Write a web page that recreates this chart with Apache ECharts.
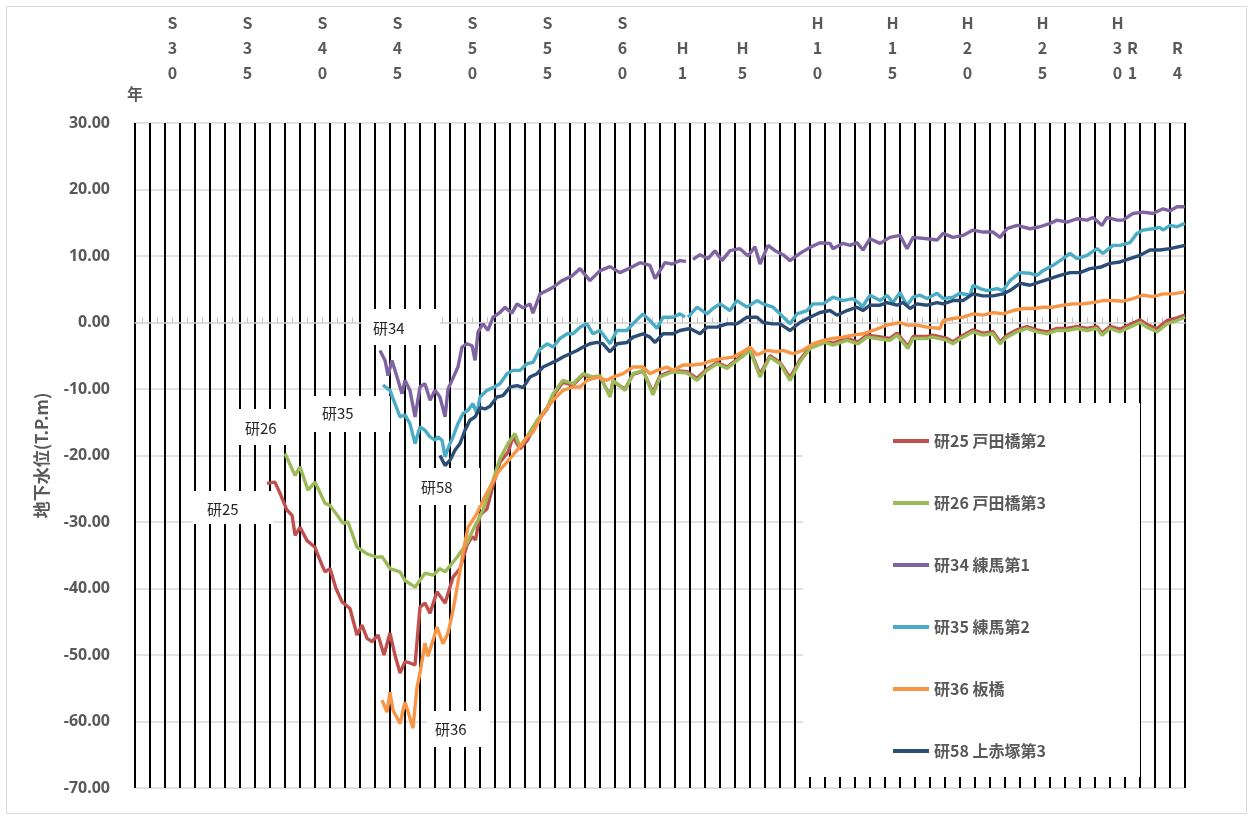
<!DOCTYPE html>
<html><head><meta charset="utf-8">
<script src="https://cdn.jsdelivr.net/npm/echarts@6/dist/echarts.min.js"></script>
<style>html,body{margin:0;padding:0;background:#fff}#c{width:1253px;height:820px}</style>
</head><body><div id="c"></div>
<script>
// ---- data ----
const FIRST_YEAR = 1953, LAST_YEAR = 2023;
const yearCategories = [];
for (let y = FIRST_YEAR; y < LAST_YEAR; y++) yearCategories.push(String(y));
const eraTickLabels = {1955:'S30',1960:'S35',1965:'S40',1970:'S45',1975:'S50',1980:'S55',1985:'S60',
  1989:'H1',1993:'H5',1998:'H10',2003:'H15',2008:'H20',2013:'H25',2018:'H30',2019:'R1',2022:'R4'};
const yTicks = {min:-70, max:30, step:10};

const seriesNames = ['研25 戸田橋第2','研26 戸田橋第3','研34 練馬第1','研35 練馬第2','研36 板橋','研58 上赤塚第3'];
const seriesColors = ['#C0504D','#9BBB59','#8064A2','#4BACC6','#F79646','#2C4D75'];

const ken25 = [[1961.8,-24.2],[1962.33,-24.0],[1962.67,-25.7],[1963.13,-28.2],[1963.47,-29.0],[1963.67,-32.0],[1964.0,-30.8],
 [1964.47,-32.8],[1965.0,-33.8],[1965.2,-35],[1965.47,-36.5],[1965.67,-37.5],[1966.0,-37.0],[1966.4,-40.0],[1966.8,-42.0],
 [1967.33,-43.0],[1967.8,-47.0],[1968.13,-45.5],[1968.47,-47.5],[1968.8,-48.0],[1969.2,-47.0],[1969.6,-50.0],[1970.0,-46.7],
 [1970.33,-50],[1970.67,-52.7],[1971.0,-51.0],[1971.33,-51.2],[1971.67,-51.5],[1972.0,-42.8],[1972.33,-42.2],[1972.67,-43.7],
 [1973.13,-40.5],[1973.67,-42.2],[1974.2,-38.3],[1974.67,-37.0],[1975.13,-33.5],[1975.47,-32.2],[1975.7,-32.7],[1976.0,-29.0],
 [1976.47,-28.0],[1976.87,-24.5],[1977.33,-21.0],[1977.87,-19.5],[1978.2,-17.2],[1978.67,-19.0],[1979.13,-17.8],[1979.8,-15.0],
 [1980.47,-13.0],[1980.87,-11.0],[1981.53,-9.0],[1982.2,-9.4],[1982.87,-7.9],[1983.53,-8.3],[1984.0,-8.2],[1984.67,-11.0],
 [1984.87,-8.9],[1985.67,-10.0],[1986.2,-7.8],[1986.87,-7.3],[1987.53,-10.5],[1988.0,-8.0],[1988.87,-7.2],[1989.8,-7.4],
 [1990.47,-8.4],[1991.13,-7.0],[1991.8,-6.0],[1992.47,-6.7],[1993.33,-5.2],[1994.0,-4.0],[1994.67,-7.8],[1995.33,-5.0],
 [1996.0,-6.0],[1996.67,-8.3],[1997.33,-5.6],[1998.0,-3.7],[1999.0,-2.8],[1999.53,-3.1],[2000.47,-2.4],[2001.2,-2.9],
 [2001.8,-1.9],[2002.47,-2.1],[2003.33,-2.4],[2003.8,-1.6],[2004.53,-3.6],[2004.87,-2.1],[2005.8,-2.1],[2006.2,-1.9],
 [2007.13,-2.4],[2007.53,-2.9],[2008.2,-1.9],[2008.87,-1.1],[2009.53,-1.6],[2010.2,-1.4],[2010.67,-2.9],[2011.13,-1.9],
 [2011.8,-1.1],[2012.47,-0.6],[2013.13,-1.1],[2013.8,-1.4],[2014.47,-0.9],[2015.13,-0.9],[2015.8,-0.6],[2016.47,-0.9],
 [2017.13,-0.6],[2017.47,-1.6],[2018.0,-0.6],[2018.67,-1.0],[2019.33,-0.3],[2020.0,0.4],[2020.47,-0.3],[2021.13,-0.9],
 [2021.8,0.3],[2022.47,0.7],[2023.0,1.1]];

const ken26 = [[1963.0,-19.7],[1963.67,-23.0],[1964.0,-21.7],[1964.53,-25.2],[1965.0,-24.0],[1965.67,-27.2],[1966.0,-27.5],
 [1966.87,-30.2],[1967.2,-30.0],[1967.8,-33.8],[1968.47,-34.8],[1969.13,-35.3],[1969.47,-35.2],[1970.0,-37.0],[1970.67,-37.5],
 [1971.0,-38.8],[1971.67,-39.8],[1972.33,-37.7],[1972.87,-38.0],[1973.33,-37.0],[1973.67,-37.5],[1974.47,-35.3],[1975.13,-33.2],
 [1975.53,-31.2],[1976.2,-28.2],[1976.87,-23.7],[1977.33,-20.5],[1977.87,-18.2],[1978.33,-16.7],[1978.67,-18.7],[1979.13,-17.2],
 [1979.8,-14.7],[1980.47,-12.8],[1980.87,-10.7],[1981.53,-8.7],[1982.2,-9.2],[1982.87,-7.7],[1983.53,-8.2],[1984.0,-8.0],
 [1984.67,-11.2],[1984.87,-8.7],[1985.67,-10.2],[1986.2,-7.7],[1986.87,-7.2],[1987.53,-10.9],[1988.0,-8.2],[1988.87,-7.4],
 [1989.8,-7.6],[1990.47,-8.7],[1991.13,-7.2],[1991.8,-6.2],[1992.47,-6.9],[1993.33,-5.4],[1994.0,-4.2],[1994.67,-8.2],
 [1995.33,-5.2],[1996.0,-6.2],[1996.67,-8.7],[1997.33,-5.9],[1998.0,-3.9],[1999.0,-3.0],[1999.53,-3.4],[2000.47,-2.7],
 [2001.2,-3.2],[2001.8,-2.2],[2002.47,-2.4],[2003.33,-2.7],[2003.8,-1.9],[2004.53,-3.9],[2004.87,-2.4],[2005.8,-2.4],
 [2006.2,-2.2],[2007.13,-2.7],[2007.53,-3.2],[2008.2,-2.2],[2008.87,-1.4],[2009.53,-1.9],[2010.2,-1.7],[2010.67,-3.2],
 [2011.13,-2.2],[2011.8,-1.4],[2012.47,-0.9],[2013.13,-1.4],[2013.8,-1.7],[2014.47,-1.2],[2015.13,-1.2],[2015.8,-0.9],
 [2016.47,-1.2],[2017.13,-0.9],[2017.47,-1.9],[2018.0,-0.9],[2018.67,-1.4],[2019.33,-0.7],[2020.0,0.0],[2020.47,-0.7],
 [2021.13,-1.4],[2021.8,-0.2],[2022.47,0.3],[2023.0,0.8]];

const ken34 = [[1969.33,-4.2],[1969.67,-5.7],[1969.87,-8.0],[1970.13,-5.7],[1970.47,-8.2],[1970.8,-10.7],[1971.0,-8.7],
 [1971.33,-10.2],[1971.67,-14.2],[1972.0,-9.7],[1972.33,-9.2],[1972.67,-11.7],[1973.0,-10.2],[1973.33,-11.2],[1973.67,-14.2],
 [1973.87,-10.0],[1974.13,-8.7],[1974.53,-6.7],[1974.8,-3.7],[1975.13,-3.2],[1975.47,-3.5],[1975.67,-5.7],[1975.87,-1.4],
 [1976.2,-0.2],[1976.53,-1.2],[1976.87,0.8],[1977.33,1.5],[1977.67,2.3],[1978.13,1.4],[1978.47,2.8],[1978.87,2.2],
 [1979.33,2.8],[1979.53,1.4],[1980.0,4.3],[1980.47,4.8],[1980.87,5.3],[1981.47,6.3],[1982.13,7.0],[1982.67,8.1],
 [1983.33,6.3],[1984.0,7.8],[1984.67,8.4],[1985.33,7.5],[1986.0,8.2],[1986.67,9.0],[1987.33,8.6],[1987.67,6.6],
 [1988.33,9.0],[1988.8,8.8],[1989.33,9.3],[1989.73,9.2],[1989.95,null],[1990.2,9.5],[1990.67,10.2],[1991.2,9.6],
 [1991.67,10.8],[1992.13,9.3],[1992.67,10.8],[1993.33,11.1],[1993.87,10.0],[1994.33,11.4],[1994.67,8.8],[1995.2,11.6],
 [1995.67,10.8],[1996.2,10.2],[1996.67,9.3],[1997.33,10.4],[1998.0,11.3],[1998.67,12.0],[1999.33,11.9],[1999.53,11.1],
 [2000.2,11.9],[2000.67,11.6],[2001.13,12.0],[2001.53,10.9],[2002.0,12.6],[2002.67,11.9],[2003.33,12.8],[2004.0,13.1],
 [2004.47,11.1],[2004.87,12.8],[2005.8,12.6],[2006.47,12.4],[2006.87,13.4],[2007.53,12.8],[2008.2,13.1],[2008.87,13.9],
 [2009.53,13.6],[2010.2,13.6],[2010.67,12.8],[2011.13,14.1],[2011.8,14.6],[2012.67,14.1],[2013.33,14.4],[2014.0,14.9],
 [2014.47,15.4],[2015.13,15.1],[2015.8,15.6],[2016.47,15.4],[2016.87,15.8],[2017.47,14.6],[2017.8,15.8],[2018.47,15.4],
 [2018.87,15.4],[2019.53,16.4],[2020.2,16.6],[2020.87,16.4],[2021.53,17.1],[2022.0,16.8],[2022.47,17.4],[2023.0,17.4]];

const ken35 = [[1969.53,-9.4],[1970.0,-10.2],[1970.33,-12.2],[1970.67,-14.2],[1971.0,-13.9],[1971.33,-15.2],[1971.67,-18.2],
 [1972.0,-15.7],[1972.33,-16.2],[1972.67,-17.2],[1973.0,-17.7],[1973.2,-17.2],[1973.47,-17.7],[1973.67,-20.2],[1973.87,-18.9],
 [1974.2,-17.2],[1974.53,-15.2],[1974.87,-13.7],[1975.2,-13.2],[1975.53,-12.2],[1975.8,-13.7],[1976.0,-11.2],[1976.47,-10.2],
 [1976.87,-9.8],[1977.33,-9.2],[1977.8,-7.7],[1978.2,-7.2],[1978.67,-7.2],[1979.13,-6.2],[1979.53,-6.0],[1980.0,-4.0],
 [1980.47,-3.2],[1980.87,-3.7],[1981.33,-2.4],[1981.8,-1.7],[1982.2,-1.7],[1982.67,-0.7],[1983.13,-0.2],[1983.53,-1.7],
 [1984.0,-1.2],[1984.67,-3.2],[1985.13,-1.2],[1985.8,-1.2],[1986.2,-0.2],[1986.87,1.3],[1987.33,0.3],[1987.8,-0.9],
 [1988.2,0.8],[1988.87,0.8],[1989.33,1.3],[1989.67,0.8],[1989.77,null],[1989.87,0.8],[1990.47,2.3],[1991.13,1.3],
 [1991.53,2.1],[1992.0,2.8],[1992.67,1.8],[1993.13,3.3],[1993.8,2.3],[1994.47,3.3],[1994.87,2.8],[1995.53,2.3],
 [1996.0,1.3],[1996.67,-0.2],[1997.13,1.3],[1997.8,1.8],[1998.2,2.8],[1998.87,2.8],[1999.53,3.8],[2000.2,3.3],
 [2000.87,3.6],[2001.33,2.8],[2001.47,2.3],[2002.0,4.1],[2002.67,3.3],[2003.13,4.1],[2003.53,3.0],[2004.0,4.5],
 [2004.47,2.6],[2004.87,3.8],[2005.33,4.1],[2005.8,3.6],[2006.47,4.4],[2006.87,3.6],[2007.53,3.8],[2008.0,4.4],
 [2008.67,4.1],[2008.87,5.6],[2009.33,5.1],[2009.8,4.8],[2010.47,5.1],[2010.87,4.8],[2011.33,6.3],[2012.0,7.5],
 [2012.67,7.4],[2013.13,7.1],[2013.53,7.8],[2014.2,8.6],[2014.87,9.6],[2015.33,10.4],[2015.8,9.6],[2016.47,10.1],
 [2017.13,11.1],[2017.53,10.4],[2018.2,11.6],[2018.67,11.6],[2019.33,12.0],[2019.8,13.4],[2020.2,13.9],[2020.87,14.1],
 [2021.33,14.3],[2021.53,13.9],[2022.0,14.6],[2022.47,14.4],[2023.0,14.9]];

const ken36 = [[1969.47,-56.8],[1969.8,-58.6],[1970.0,-55.6],[1970.2,-58.3],[1970.67,-60.3],[1971.0,-57.1],[1971.2,-58.5],
 [1971.53,-61.0],[1971.8,-54.9],[1972.0,-52.7],[1972.33,-48.2],[1972.53,-50.2],[1972.87,-47.8],[1973.13,-45.8],[1973.53,-48.3],
 [1973.87,-46.7],[1974.2,-43.3],[1974.53,-39.1],[1974.87,-34.6],[1975.2,-30.8],[1975.8,-28.7],[1976.2,-26.7],[1976.8,-24.2],
 [1977.2,-22.5],[1977.8,-21.0],[1978.47,-19.2],[1979.13,-17.2],[1979.53,-16.5],[1980.2,-13.7],[1980.87,-11.7],[1981.53,-10.2],
 [1982.2,-9.7],[1982.67,-9.7],[1983.13,-8.7],[1983.8,-8.2],[1984.47,-8.7],[1984.87,-8.2],[1985.53,-7.7],[1986.2,-6.7],
 [1986.87,-6.7],[1987.33,-7.7],[1987.8,-7.2],[1988.47,-6.7],[1988.87,-7.2],[1989.53,-6.4],[1990.2,-6.4],[1990.87,-6.2],
 [1991.53,-5.7],[1992.2,-5.4],[1992.87,-5.2],[1993.53,-4.4],[1994.0,-3.7],[1994.47,-4.9],[1995.13,-4.2],[1995.8,-4.4],
 [1996.2,-4.2],[1996.87,-4.7],[1997.53,-4.2],[1998.2,-3.2],[1998.87,-2.7],[1999.53,-2.4],[2000.2,-2.2],[2000.87,-1.9],
 [2001.53,-1.7],[2002.2,-1.2],[2003.13,-0.4],[2004.0,0.0],[2004.47,-0.4],[2005.13,-0.4],[2005.8,-0.7],[2006.67,-0.9],
 [2006.87,0.3],[2007.53,0.6],[2008.2,0.8],[2008.87,1.3],[2009.53,1.1],[2010.2,1.5],[2010.87,1.3],[2011.53,1.8],
 [2012.2,2.1],[2012.87,2.1],[2013.53,2.3],[2014.2,2.3],[2014.87,2.6],[2015.53,2.8],[2016.2,2.8],[2016.87,3.0],
 [2017.53,3.3],[2018.2,3.3],[2018.87,3.2],[2019.53,3.6],[2020.2,4.1],[2020.87,3.9],[2021.53,4.3],[2022.2,4.3],[2023.0,4.6]];

const ken58 = [[1973.33,-20.0],[1973.67,-21.5],[1974.0,-20.7],[1974.33,-19.2],[1974.67,-18.2],[1975.0,-16.2],[1975.33,-14.7],
 [1975.67,-14.2],[1976.0,-12.8],[1976.33,-13.0],[1976.67,-12.6],[1977.13,-11.2],[1977.53,-11.0],[1978.0,-9.7],[1978.47,-9.5],
 [1978.87,-9.8],[1979.33,-8.2],[1979.8,-7.7],[1980.2,-6.7],[1980.67,-6.2],[1981.13,-5.7],[1981.53,-5.2],[1982.0,-4.7],
 [1982.47,-4.2],[1982.87,-3.7],[1983.33,-3.2],[1983.8,-3.0],[1984.2,-3.2],[1984.67,-4.4],[1985.13,-3.2],[1985.8,-3.0],
 [1986.2,-2.2],[1986.87,-1.7],[1987.33,-2.2],[1987.67,-3.0],[1988.2,-1.7],[1988.87,-1.7],[1989.33,-1.2],[1990.0,-0.9],
 [1990.67,-1.7],[1991.13,-0.7],[1991.8,-0.7],[1992.47,-0.2],[1993.13,-0.2],[1993.8,0.8],[1994.47,0.8],[1994.87,0.0],
 [1995.53,-0.2],[1996.0,-0.2],[1996.67,-1.2],[1997.33,0.0],[1998.0,0.8],[1998.67,1.5],[1999.33,1.8],[1999.8,1.1],
 [2000.47,1.8],[2001.13,2.3],[2001.53,1.8],[2002.0,2.6],[2002.67,2.6],[2003.13,3.0],[2003.8,2.6],[2004.2,3.0],
 [2004.67,2.1],[2005.13,2.8],[2005.8,2.6],[2006.47,3.0],[2006.87,2.8],[2007.53,3.3],[2008.2,3.3],[2008.87,4.3],
 [2009.53,4.0],[2010.2,4.0],[2010.87,4.3],[2011.33,4.8],[2012.0,5.9],[2012.67,5.6],[2013.33,6.1],[2014.0,6.6],
 [2014.67,7.1],[2015.33,7.5],[2016.0,7.5],[2016.67,8.1],[2017.33,8.3],[2018.0,8.9],[2018.67,9.1],[2019.33,9.6],
 [2020.0,10.1],[2020.67,10.9],[2021.33,10.9],[2022.0,11.1],[2023.0,11.6]];

const seriesData = [ken25, ken26, ken34, ken35, ken36, ken58];

// annotation labels (text + box in pixels)
const noteLabels = [
  {text:'研34', box:[362,309,78,36], tx:373, ty:328},
  {text:'研35', box:[302,396,88,36], tx:322, ty:413},
  {text:'研26', box:[232,409,60,36], tx:245, ty:428},
  {text:'研25', box:[193,491,80,33], tx:207, ty:509},
  {text:'研58', box:[410,468,70,37], tx:421, ty:487},
  {text:'研36', box:[427,711,63,36], tx:435, ty:729}
];

// ---- chart ----
const FONT = '"Noto Sans CJK JP","Noto Sans",sans-serif';
const GRAY = '#595959';
const chart = echarts.init(document.getElementById('c'));

const graphics = [
  {type:'rect', shape:{x:6.5,y:6.5,width:1240,height:807}, style:{fill:null, stroke:'#d9d9d9', lineWidth:1}, z:0, silent:true},
  {type:'rect', shape:{x:803,y:403,width:337,height:374}, style:{fill:'#fff'}, z:3, silent:true},
  {type:'text', left:127, top:86, style:{text:'年', font:'bold 16px '+FONT, fill:GRAY}, z:5}
];
noteLabels.forEach(n => {
  graphics.push({type:'rect', shape:{x:n.box[0],y:n.box[1],width:n.box[2],height:n.box[3]}, style:{fill:'#fff'}, z:3, silent:true});
  graphics.push({type:'text', x:n.tx, y:n.ty, style:{text:n.text, font:'15px '+FONT, fill:'#262626', verticalAlign:'middle'}, z:4, silent:true});
});

const option = {
  backgroundColor:'#fff',
  animation:false,
  grid:{left:135, right:68, top:123, bottom:32, containLabel:false},
  legend:{
    orient:'vertical', left:888, top:426, itemGap:42, itemWidth:36, itemHeight:4, icon:'rect',
    textStyle:{fontFamily:FONT, fontWeight:'bold', fontSize:16, color:GRAY, lineHeight:20},
    data:seriesNames, z:6
  },
  xAxis:[
    {type:'value', min:FIRST_YEAR, max:LAST_YEAR, show:false, axisLine:{onZero:false}},
    {type:'category', position:'top', data:yearCategories, boundaryGap:true, z:1,
     axisLine:{show:false}, axisTick:{show:false},
     axisLabel:{interval:0, margin:38, fontFamily:FONT, fontWeight:'bold', fontSize:16, color:GRAY, lineHeight:25,
       verticalAlign:'bottom',
       formatter:v => eraTickLabels[v] ? eraTickLabels[v].split('').join('\n') : ''},
     splitLine:{show:true, interval:0, lineStyle:{color:'#000', width:2}}},
    {type:'category', position:'bottom', data:yearCategories, boundaryGap:true, z:1,
     axisLine:{show:true, onZero:true, onZeroAxisIndex:0, lineStyle:{color:'#d9d9d9', width:1.5}},
     axisTick:{show:true, inside:true, alignWithLabel:true, interval:0, length:5, lineStyle:{color:'#bfbfbf', width:1}},
     axisLabel:{show:false}, splitLine:{show:false}}
  ],
  yAxis:{
    type:'value', min:yTicks.min, max:yTicks.max, interval:yTicks.step,
    name:'地下水位(T.P.m)', nameLocation:'middle', nameGap:85,
    nameTextStyle:{fontFamily:FONT, fontWeight:'bold', fontSize:17, color:GRAY},
    axisLine:{show:false}, axisTick:{show:false},
    axisLabel:{margin:25, fontFamily:'"Noto Sans","Open Sans",sans-serif', fontWeight:'bold', fontSize:16, color:GRAY,
      formatter:v => v.toFixed(2)},
    splitLine:{show:true, lineStyle:{color:'#d9d9d9', width:1.5}}
  },
  graphic:graphics,
  series: seriesNames.map((name, i) => ({
    name, type:'line', xAxisIndex:0, yAxisIndex:0, data:seriesData[i], symbol:'none', showSymbol:false,
    connectNulls:false, color:seriesColors[i], lineStyle:{width:3.4, color:seriesColors[i]}, z:2
  }))
};
chart.setOption(option);
</script></body></html>
